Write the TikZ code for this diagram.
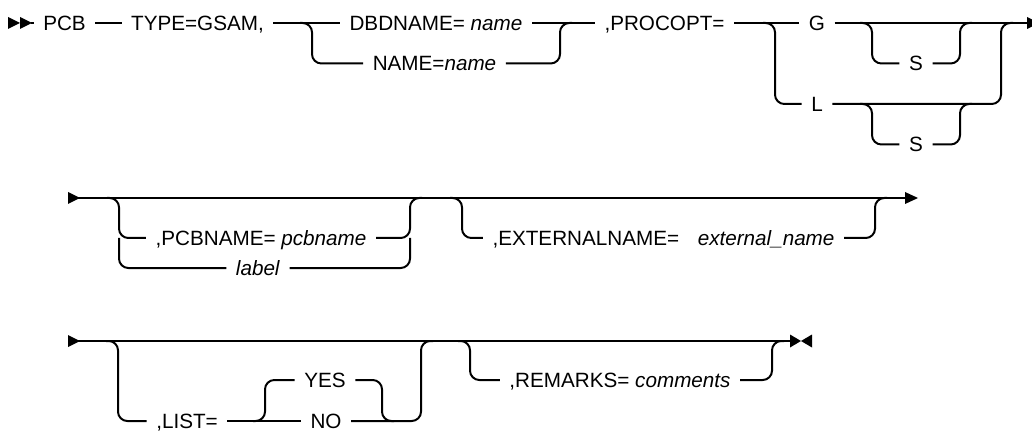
\documentclass[tikz,border=0pt]{standalone}
\usepackage{fontspec}
\setmainfont{Liberation Sans}
\usetikzlibrary{calc}
\tikzset{
  t/.style={inner xsep=6.5pt, inner ysep=1pt, text height=11.1pt, text depth=0pt,
            font=\fontsize{15.5pt}{18pt}\selectfont},
  rc/.style={rounded corners=7pt},
  tip/.style={fill=black, draw=none},
}
\begin{document}
\begin{tikzpicture}[x=0.75pt, y=-0.75pt, line width=1.5pt, line join=round]
\useasboundingbox (0,0) rectangle (1032,431);
\clip (0,0) rectangle (1032,431);

% ---------------- Row 1 ----------------
\fill[tip] (8,17) -- (20,23) -- (8,29) -- cycle;
\fill[tip] (20,17) -- (32,23) -- (20,29) -- cycle;
\coordinate (r1s) at (31,23);
\node[t] (pcb)  at (64.5,23)  {PCB};
\node[t] (type) at (197.5,23) {TYPE=GSAM,};
\node[t] (dbd)  at (436,23)   {DBDNAME= \textit{name}};
\node[t] (nm)   at (434.5,63.5) {NAME=\textit{name}};
\node[t] (proc) at (664.5,23) {,PROCOPT=};
\node[t] (g)    at (817,23)   {G};
\node[t] (l)    at (817,104)  {L};
\node[t] (sa)   at (916,63.5) {S};
\node[t] (sb)   at (916,144.5) {S};
\coordinate (j1) at (312,23);
\coordinate (j2) at (560,23);
\coordinate (j3) at (775,23);
\coordinate (j4) at (1001,23);
\coordinate (j5) at (872,23);
\coordinate (j6) at (960,23);
\coordinate (j7) at (872,104);
\coordinate (j8) at (960,104);
\coordinate (e1) at (1028,23);

\draw (r1s) -- (pcb);
\draw (pcb) -- (type);
\draw (type) -- (dbd);
\draw (dbd) -- (proc);
\draw[rc] ($(j1)+(-12,0)$) -| ($(j1)+(0,40.5)$) -- (nm);
\draw[rc] (nm) -| (j2) -- ++(12,0);
\draw (proc) -- (g);
\draw (g) -- (e1);
\draw[rc] ($(j3)+(-12,0)$) -| ($(j3)+(0,81)$) -- (l);
\draw[rc] (l) -| (j4) -- ++(12,0);
\draw[rc] ($(j5)+(-12,0)$) -| ($(j5)+(0,40.5)$) -- (sa);
\draw[rc] (sa) -| (j6) -- ++(12,0);
\draw[rc] ($(j7)+(-12,0)$) -| ($(j7)+(0,40.5)$) -- (sb);
\draw[rc] (sb) -| (j8) -- ++(12,0);
\fill[tip] (1027,17) -- (1039,23) -- (1027,29) -- cycle;

% ---------------- Row 2 ----------------
\fill[tip] (68,192) -- (80,198) -- (68,204) -- cycle;
\coordinate (r2s) at (78,198);
\coordinate (r2e) at (906,198);
\node[t] (pcbn) at (261,238) {,PCBNAME= \textit{pcbname}};
\node[t] (lab)  at (258,268) {\textit{label}};
\node[t] (ext)  at (663.5,238) {,EXTERNALNAME=\hspace{0.9em}\textit{external\_name}};
\coordinate (k1) at (119,198);
\coordinate (k2) at (410,198);
\coordinate (k3) at (462,198);
\coordinate (k4) at (875,198);
\draw (r2s) -- (r2e);
\draw[rc] ($(k1)+(-12,0)$) -| ($(k1)+(0,40)$) -- (pcbn);
\draw[rc] ($(k1)+(0,40)$) -- ($(k1)+(0,70)$) -- (lab);
\draw[rc] (pcbn) -| (k2) -- ++(12,0);
\draw[rc] (lab) -| ($(k2)+(0,40)$);
\draw[rc] ($(k3)+(-12,0)$) -| ($(k3)+(0,40)$) -- (ext);
\draw[rc] (ext) -| (k4) -- ++(12,0);
\fill[tip] (905,192) -- (918,198) -- (905,204) -- cycle;

% ---------------- Row 3 ----------------
\fill[tip] (68,335) -- (80,341) -- (68,347) -- cycle;
\coordinate (r3s) at (78,341);
\coordinate (r3e) at (791,341);
\node[t] (list) at (187,421) {,LIST=};
\node[t] (yes)  at (325,380) {YES};
\node[t] (no)   at (326,421) {NO};
\node[t] (rem)  at (620,380) {,REMARKS= \textit{comments}};
\coordinate (m1) at (118,341);
\coordinate (m2) at (421,341);
\coordinate (m3) at (265,421);
\coordinate (m4) at (382,421);
\coordinate (m5) at (470,341);
\coordinate (m6) at (772,341);
\draw (r3s) -- (r3e);
\draw[rc] ($(m1)+(-12,0)$) -| ($(m1)+(0,80)$) -- (list);
\draw (list) -- (no);
\draw[rc] (no) -| (m2) -- ++(12,0);
\draw[rc] ($(m3)+(-12,0)$) -| ($(m3)+(0,-41)$) -- (yes);
\draw[rc] (yes) -| (m4) -- ++(12,0);
\draw[rc] ($(m5)+(-12,0)$) -| ($(m5)+(0,39)$) -- (rem);
\draw[rc] (rem) -| (m6) -- ++(12,0);
\fill[tip] (790,334.5) -- (801,341) -- (790,347.5) -- cycle;
\fill[tip] (812,334.5) -- (801,341) -- (812,347.5) -- cycle;
\end{tikzpicture}
\end{document}
